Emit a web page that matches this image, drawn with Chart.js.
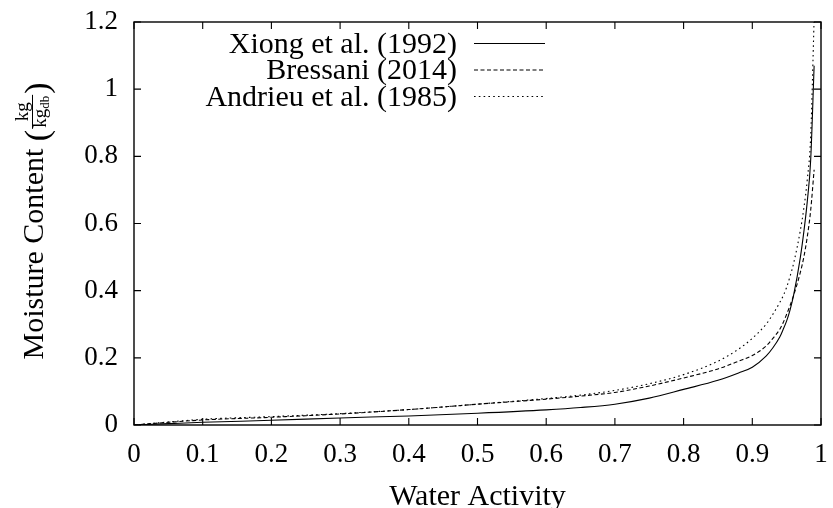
<!DOCTYPE html>
<html><head><meta charset="utf-8">
<script src="https://cdn.jsdelivr.net/npm/chart.js@4/dist/chart.umd.min.js"></script>
<style>html,body{margin:0;padding:0;background:#fff}#wrap{width:833px;height:508px}</style>
</head><body><div id="wrap"><canvas id="c" width="833" height="508"></canvas></div>
<script>
const waterActivity = [0,0.05,0.1,0.2,0.3,0.4,0.5,0.6,0.65,0.7,0.75,0.8,0.85,0.88,0.9,0.92,0.93,0.94,0.945,0.95,0.955,0.96,0.97,0.975,0.98,0.985,0.99];
const xiong    = [0,0.004,0.008,0.014,0.021,0.027,0.035,0.045,0.052,0.062,0.080,0.106,0.133,0.155,0.172,0.205,0.23,0.262,0.285,0.31,0.343,0.385,0.50,0.575,0.665,0.79,1.07];
const bressani = [0,0.008,0.015,0.023,0.033,0.046,0.062,0.077,0.086,0.097,0.116,0.14,0.167,0.19,0.207,0.235,0.258,0.285,0.305,0.33,0.356,0.385,0.455,0.50,0.56,0.64,0.76];
const andrieu  = [0,0.009,0.017,0.025,0.034,0.046,0.062,0.079,0.089,0.103,0.123,0.15,0.19,0.226,0.258,0.30,0.33,0.365,0.385,0.41,0.443,0.48,0.58,0.645,0.73,0.86,1.21];
const seriesLabels = ['Xiong et al. (1992)','Bressani (2014)','Andrieu et al. (1985)'];
const seriesDashes = [[], [4,2.5], [1.6,3.2]];
const xTicks = [0,0.1,0.2,0.3,0.4,0.5,0.6,0.7,0.8,0.9,1];
const yTicks = [0,0.2,0.4,0.6,0.8,1,1.2];
const xTitle = 'Water Activity';
const yTitle = 'Moisture Content';
const yUnitNum = 'kg', yUnitDen = 'kg', yUnitSub = 'db';

const FONT = '"Liberation Serif", "Times New Roman", serif';
const fmt = v => String(Number(v.toFixed(1)));

function pts(ys){ return waterActivity.map((x,i)=>({x:x,y:ys[i]})); }
const seriesData = [xiong, bressani, andrieu];

const datasets = seriesData.map((d,i)=>({
  label: seriesLabels[i], data: pts(d), borderColor:'#000', borderWidth:1.1,
  borderDash: seriesDashes[i], pointRadius:0, fill:false, cubicInterpolationMode:'monotone'
}));

const decor = {
  id:'decor',
  afterDatasetsDraw(chart){
    const ctx = chart.ctx, a = chart.chartArea;
    const xs = chart.scales.x, ys = chart.scales.y;
    ctx.save();
    ctx.strokeStyle = '#000'; ctx.lineWidth = 1.4;
    ctx.strokeRect(a.left, a.top, a.right-a.left, a.bottom-a.top);
    ctx.lineWidth = 1.1;
    const tl = 7;
    ctx.beginPath();
    xTicks.forEach(v=>{ const p = xs.getPixelForValue(v);
      ctx.moveTo(p, a.bottom); ctx.lineTo(p, a.bottom-tl);
      ctx.moveTo(p, a.top); ctx.lineTo(p, a.top+tl); });
    yTicks.forEach(v=>{ const p = ys.getPixelForValue(v);
      ctx.moveTo(a.left, p); ctx.lineTo(a.left+tl, p);
      ctx.moveTo(a.right, p); ctx.lineTo(a.right-tl, p); });
    ctx.stroke();

    // legend
    ctx.fillStyle = '#000';
    ctx.font = '30px ' + FONT;
    ctx.textAlign = 'right'; ctx.textBaseline = 'alphabetic';
    const rows = [43, 69.5, 96];
    seriesLabels.forEach((t,i)=>{
      ctx.fillText(t, 457, rows[i]+9.5);
      ctx.beginPath(); ctx.setLineDash(seriesDashes[i]); ctx.lineWidth = 1.1;
      ctx.moveTo(474, rows[i]+0.5); ctx.lineTo(545, rows[i]+0.5); ctx.stroke();
    });
    ctx.setLineDash([]);

    // x title
    ctx.textAlign = 'center';
    ctx.font = '30px ' + FONT;
    ctx.fillText(xTitle, (a.left+a.right)/2, 505);

    // y title (rotated) with fraction
    ctx.save();
    ctx.translate(43, 221);
    ctx.rotate(-Math.PI/2);
    ctx.textAlign = 'left';
    const mainF = '30px ' + FONT, parF = '34px ' + FONT, frF = '19px ' + FONT, subF = '13px ' + FONT;
    ctx.font = mainF; const wMain = ctx.measureText(yTitle + ' ').width;
    ctx.font = parF; const wPar = ctx.measureText('(').width;
    ctx.font = frF; const wNum = ctx.measureText(yUnitNum).width; const wDen0 = ctx.measureText(yUnitDen).width;
    ctx.font = subF; const wSub = ctx.measureText(yUnitSub).width;
    const wDen = wDen0 + wSub;
    const wFr = Math.max(wNum, wDen) + 4;
    const total = wMain + wPar + wFr + wPar;
    let x0 = -total/2;
    ctx.font = mainF; ctx.fillText(yTitle, x0, 0); x0 += wMain;
    ctx.font = parF; ctx.fillText('(', x0, 5); x0 += wPar;
    ctx.font = frF; ctx.fillText(yUnitNum, x0 + (wFr - wNum)/2, -15);
    ctx.beginPath(); ctx.lineWidth = 1; ctx.moveTo(x0+1, -10.5); ctx.lineTo(x0+wFr-1, -10.5); ctx.stroke();
    const dx = x0 + (wFr - wDen)/2;
    ctx.fillText(yUnitDen, dx, 3);
    ctx.font = subF; ctx.fillText(yUnitSub, dx + wDen0, 6);
    x0 += wFr;
    ctx.font = parF; ctx.fillText(')', x0, 5);
    ctx.restore();
    ctx.restore();
  }
};

new Chart(document.getElementById('c'), {
  type:'line',
  data:{ datasets },
  options:{
    responsive:false, animation:false, devicePixelRatio:1,
    layout:{ padding:{ top:22, right:12, left:0, bottom:0 } },
    plugins:{ legend:{display:false}, tooltip:{enabled:false} },
    scales:{
      x:{ type:'linear', min:0, max:1,
        grid:{display:false, drawTicks:false}, border:{display:false},
        afterBuildTicks(s){ s.ticks = xTicks.map(v=>({value:v})); },
        afterFit(s){ s.height = 83; s.paddingLeft = 0; s.paddingRight = 0; },
        ticks:{ color:'#000', padding:14, font:{family:FONT, size:27}, maxRotation:0, autoSkip:false, callback:v=>fmt(v) } },
      y:{ type:'linear', min:0, max:1.2,
        grid:{display:false, drawTicks:false}, border:{display:false},
        afterBuildTicks(s){ s.ticks = yTicks.map(v=>({value:v})); },
        afterFit(s){ s.width = 134; s.paddingTop = 0; s.paddingBottom = 0; },
        ticks:{ color:'#000', padding:16, font:{family:FONT, size:27}, autoSkip:false, callback:v=>fmt(v) } }
    }
  },
  plugins:[decor]
});
</script></body></html>
